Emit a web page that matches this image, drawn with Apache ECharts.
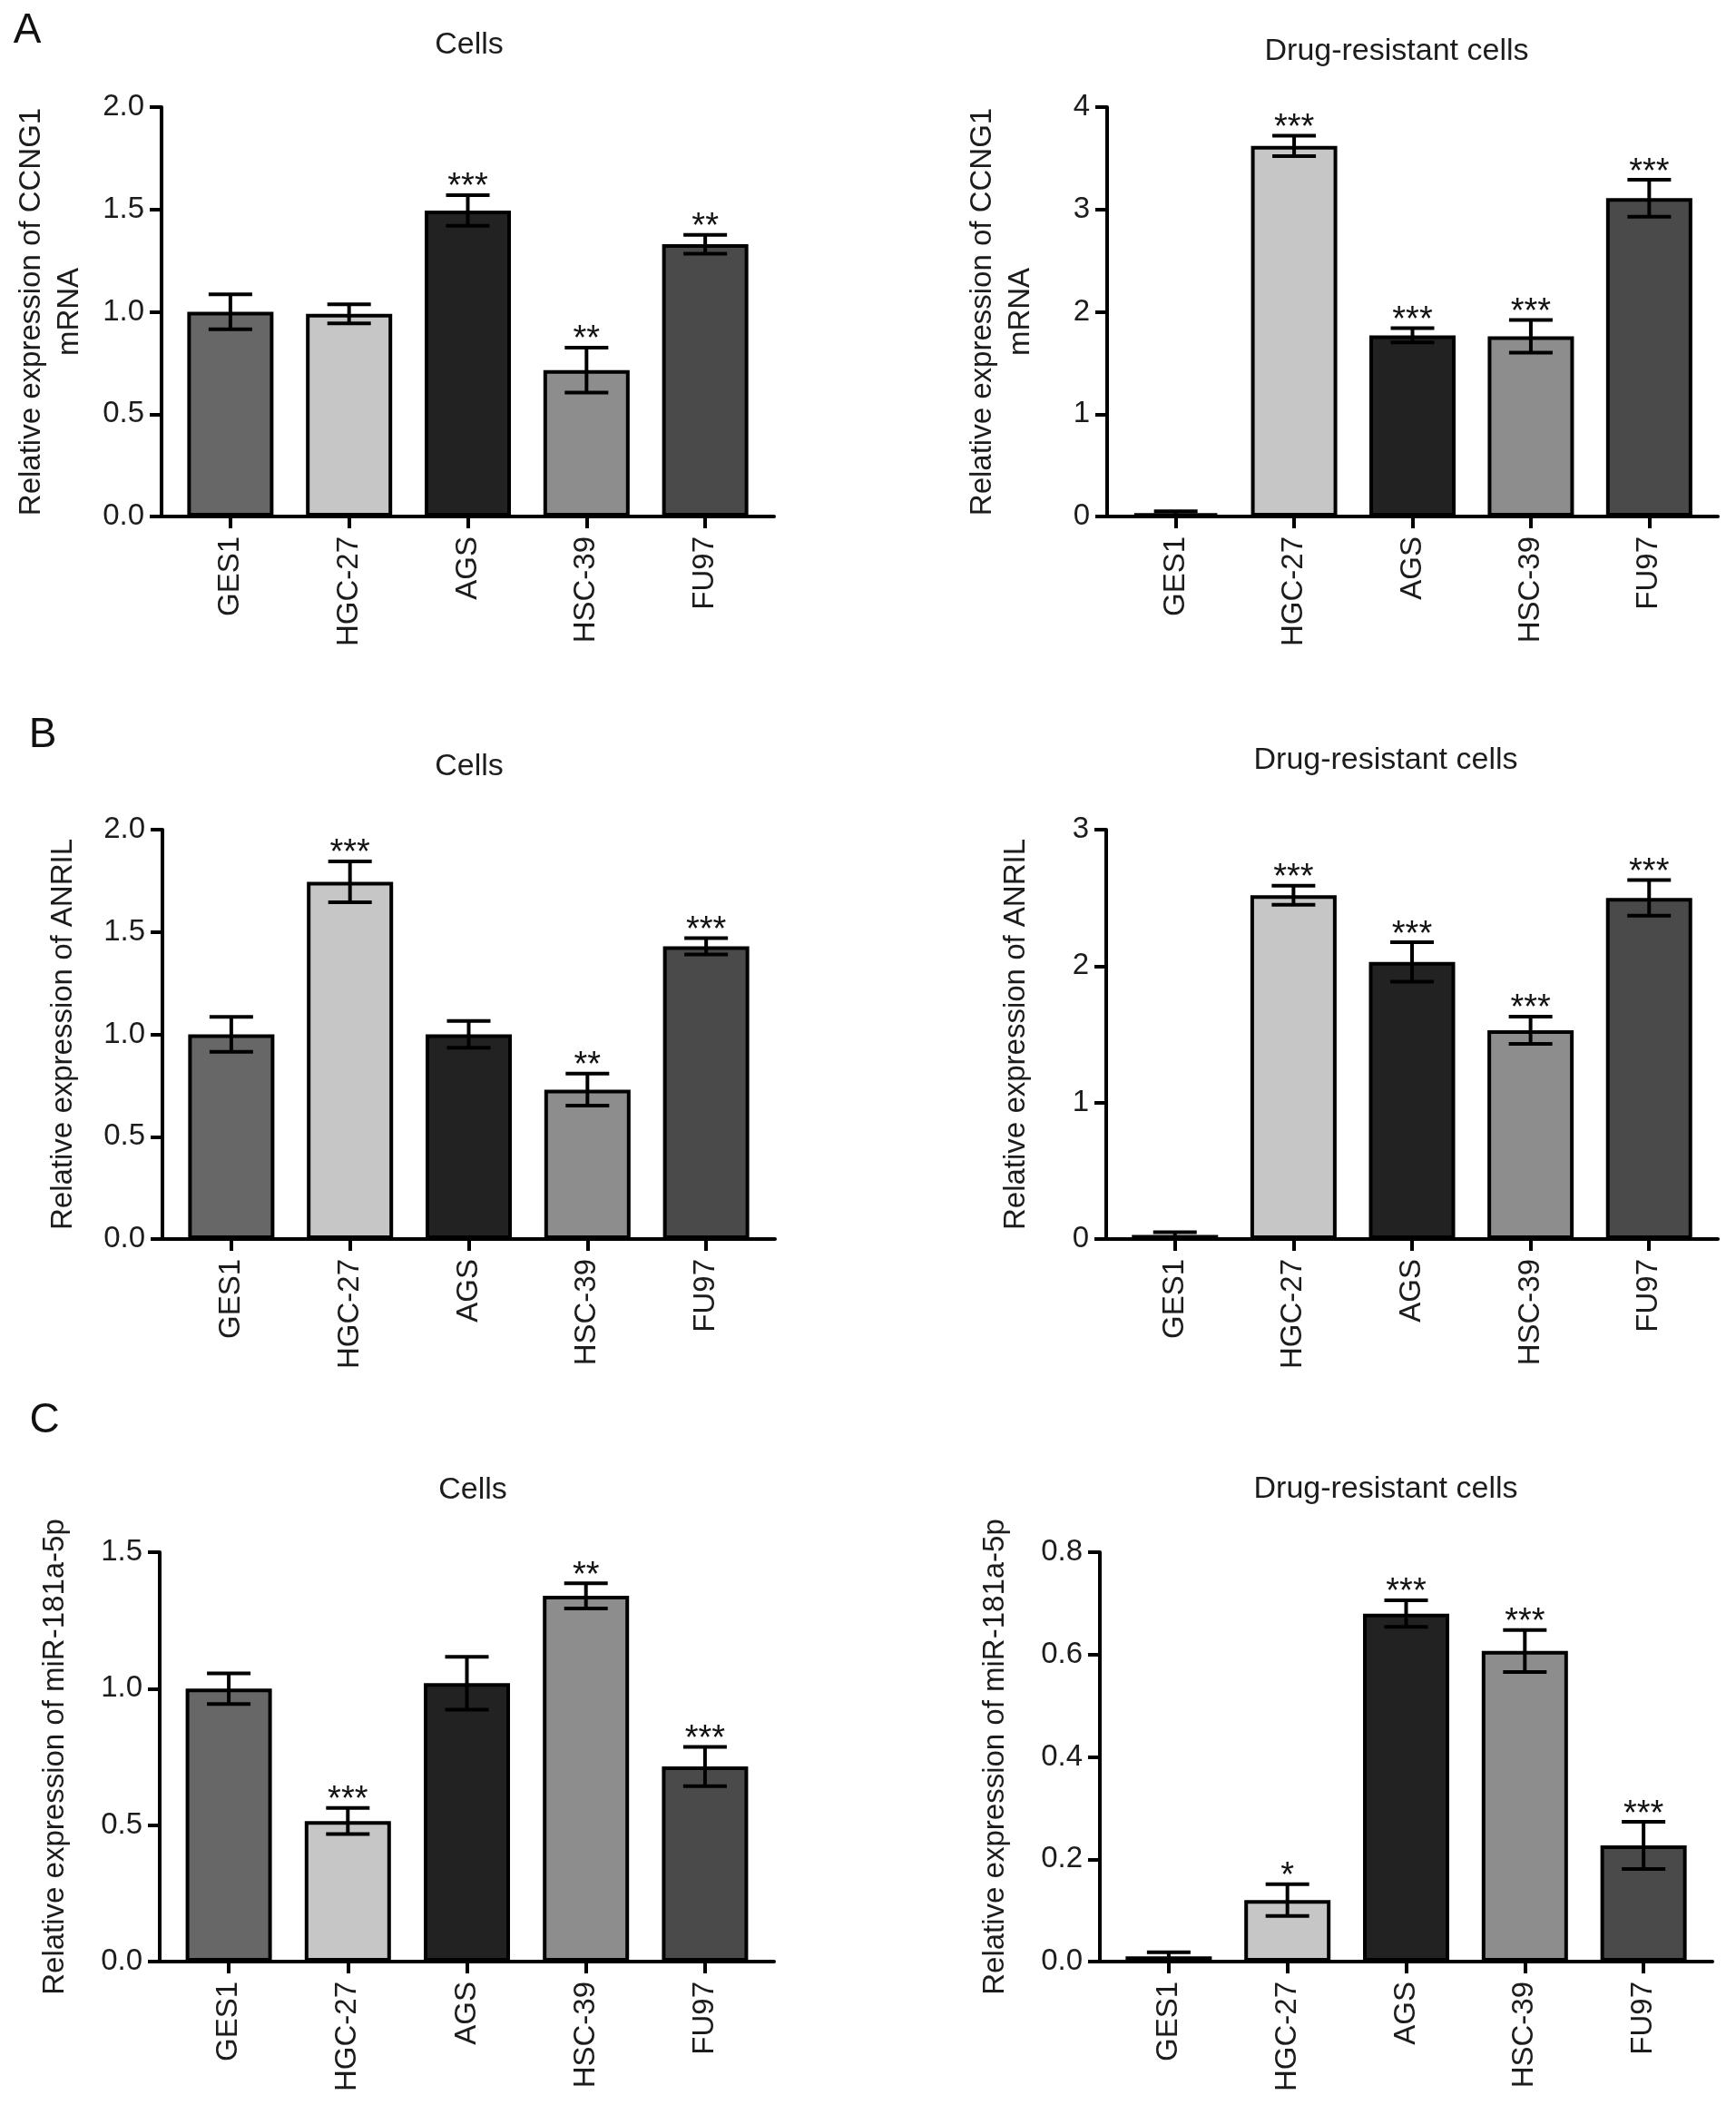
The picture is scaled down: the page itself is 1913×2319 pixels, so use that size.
<!DOCTYPE html>
<html>
<head>
<meta charset="utf-8">
<title>CCNG1 / ANRIL / miR-181a-5p expression</title>
<script src="https://cdn.jsdelivr.net/npm/echarts@6/dist/echarts.min.js"></script>
<style>
  html, body { margin: 0; padding: 0; background: #fff; }
  #main { width: 1913px; height: 2319px; }
</style>
</head>
<body>
<div id="main"></div>
<script>
const categories = ['GES1', 'HGC-27', 'AGS', 'HSC-39', 'FU97'];
const barColors = ['#676767', '#c6c6c6', '#222222', '#8d8d8d', '#4a4a4a'];

// A - CCNG1 mRNA
const cellsCcng1 = [1.00, 0.99, 1.495, 0.715, 1.33];
const cellsCcng1Err = [0.085, 0.047, 0.075, 0.11, 0.046];
const cellsCcng1Stars = ['', '', '***', '**', '**'];
const resCcng1 = [0.03, 3.62, 1.77, 1.76, 3.11];
const resCcng1Err = [0.02, 0.10, 0.07, 0.16, 0.18];
const resCcng1Stars = ['', '***', '***', '***', '***'];

// B - ANRIL
const cellsAnril = [1.00, 1.745, 1.00, 0.73, 1.43];
const cellsAnrilErr = [0.085, 0.10, 0.065, 0.078, 0.04];
const cellsAnrilStars = ['', '***', '', '**', '***'];
const resAnril = [0.03, 2.52, 2.03, 1.53, 2.50];
const resAnrilErr = [0.02, 0.07, 0.145, 0.10, 0.13];
const resAnrilStars = ['', '***', '***', '***', '***'];

// C - miR-181a-5p
const cellsMir = [1.00, 0.515, 1.02, 1.34, 0.715];
const cellsMirErr = [0.056, 0.048, 0.097, 0.046, 0.072];
const cellsMirStars = ['', '***', '', '**', '***'];
const resMir = [0.01, 0.12, 0.68, 0.607, 0.227];
const resMirErr = [0.008, 0.031, 0.026, 0.041, 0.046];
const resMirStars = ['', '*', '***', '***', '***'];

const FONT = '"Liberation Sans", Arial, Helvetica, sans-serif';

const panels = [
  { values: cellsCcng1, errors: cellsCcng1Err, stars: cellsCcng1Stars, yMax: 2, yStep: 0.5, digits: 1,
    name: 'Relative expression of CCNG1\nmRNA', nameGap: 80, grid: { left: 178, top: 118, width: 675, height: 451 } },
  { values: resCcng1, errors: resCcng1Err, stars: resCcng1Stars, yMax: 4, yStep: 1, digits: 0,
    name: 'Relative expression of CCNG1\nmRNA', nameGap: 74, grid: { left: 1220, top: 118, width: 673, height: 451 } },
  { values: cellsAnril, errors: cellsAnrilErr, stars: cellsAnrilStars, yMax: 2, yStep: 0.5, digits: 1,
    name: 'Relative expression of ANRIL', nameGap: 88, grid: { left: 179, top: 914, width: 675, height: 451 } },
  { values: resAnril, errors: resAnrilErr, stars: resAnrilStars, yMax: 3, yStep: 1, digits: 0,
    name: 'Relative expression of ANRIL', nameGap: 78, grid: { left: 1219, top: 914, width: 674, height: 451 } },
  { values: cellsMir, errors: cellsMirErr, stars: cellsMirStars, yMax: 1.5, yStep: 0.5, digits: 1,
    name: 'Relative expression of miR-181a-5p', nameGap: 94, grid: { left: 176, top: 1710, width: 677, height: 451 } },
  { values: resMir, errors: resMirErr, stars: resMirStars, yMax: 0.8, yStep: 0.2, digits: 1,
    name: 'Relative expression of miR-181a-5p', nameGap: 94, grid: { left: 1212, top: 1710, width: 675, height: 451 } }
];

const titles = [
  { text: 'Cells', x: 517, y: 50 },
  { text: 'Drug-resistant cells', x: 1539, y: 57 },
  { text: 'Cells', x: 517, y: 845 },
  { text: 'Drug-resistant cells', x: 1527, y: 838 },
  { text: 'Cells', x: 521, y: 1642 },
  { text: 'Drug-resistant cells', x: 1527, y: 1641 }
];
const letters = [
  { text: 'A', x: 30, y: 34 },
  { text: 'B', x: 47, y: 810 },
  { text: 'C', x: 49, y: 1565 }
];

const chart = echarts.init(document.getElementById('main'), null, { renderer: 'canvas' });

const grids = [], xAxes = [], yAxes = [], series = [];
panels.forEach(function (p, k) {
  grids.push(Object.assign({ outerBoundsMode: 'none', containLabel: false }, p.grid));
  xAxes.push({
    type: 'value', gridIndex: k, min: -0.58, max: 4.58,
    splitLine: { show: false },
    axisLine: { show: true, onZero: false, lineStyle: { color: '#000', width: 4 } },
    axisTick: { show: true, length: 13, lineStyle: { color: '#000', width: 4 }, customValues: [0, 1, 2, 3, 4] },
    axisLabel: {
      customValues: [0, 1, 2, 3, 4], rotate: 90, margin: 22,
      color: '#1c1c1c', fontSize: 33, fontFamily: FONT,
      formatter: function (v) { return categories[Math.round(v)]; }
    }
  });
  yAxes.push({
    type: 'value', gridIndex: k, min: 0, max: p.yMax, interval: p.yStep,
    splitLine: { show: false },
    axisLine: { show: true, onZero: false, lineStyle: { color: '#000', width: 4 } },
    axisTick: { show: true, length: 13, lineStyle: { color: '#000', width: 4 } },
    axisLabel: {
      margin: 19, color: '#1c1c1c', fontSize: 33, fontFamily: FONT,
      formatter: function (v) { return v.toFixed(p.digits); }
    },
    name: p.name, nameLocation: 'middle', nameRotate: 90, nameGap: p.nameGap,
    nameTextStyle: { color: '#1c1c1c', fontSize: 33, fontFamily: FONT, lineHeight: 42, align: 'center' }
  });
  series.push({
    type: 'bar', xAxisIndex: k, yAxisIndex: k, barWidth: 95,
    data: p.values.map(function (v, i) {
      return { value: [i, v], itemStyle: { color: barColors[i] } };
    }),
    itemStyle: { borderColor: '#000', borderWidth: 4 },
    emphasis: { disabled: true },
    silent: true
  });
  // error bars (mean +/- SD) and significance stars
  series.push({
    type: 'custom', xAxisIndex: k, yAxisIndex: k, z: 5, silent: true,
    data: p.values.map(function (v, i) { return [i, v, p.errors[i]]; }),
    renderItem: function (params, api) {
      const i = api.value(0), m = api.value(1), e = api.value(2);
      const top = api.coord([i, m + e]);
      const bot = api.coord([i, m - e]);
      const half = 24;
      const st = { stroke: '#000', lineWidth: 4 };
      const children = [
        { type: 'line', shape: { x1: top[0], y1: top[1], x2: bot[0], y2: bot[1] }, style: st },
        { type: 'line', shape: { x1: top[0] - half, y1: top[1], x2: top[0] + half, y2: top[1] }, style: st },
        { type: 'line', shape: { x1: bot[0] - half, y1: bot[1], x2: bot[0] + half, y2: bot[1] }, style: st }
      ];
      const s = p.stars[i];
      if (s) {
        children.push({
          type: 'text', x: top[0], y: top[1] - 8,
          style: { text: s, fill: '#111', font: '38px ' + FONT, align: 'center', verticalAlign: 'middle' }
        });
      }
      return { type: 'group', children: children };
    }
  });
});

const graphics = [];
titles.forEach(function (t) {
  graphics.push({ type: 'text', x: t.x, y: t.y,
    style: { text: t.text, fill: '#1c1c1c', font: '34px ' + FONT, align: 'center', verticalAlign: 'middle' } });
});
letters.forEach(function (t) {
  graphics.push({ type: 'text', x: t.x, y: t.y,
    style: { text: t.text, fill: '#111', font: '46px ' + FONT, align: 'center', verticalAlign: 'middle' } });
});

chart.setOption({
  backgroundColor: '#fff',
  animation: false,
  grid: grids,
  xAxis: xAxes,
  yAxis: yAxes,
  series: series,
  graphic: graphics
});
</script>
</body>
</html>
